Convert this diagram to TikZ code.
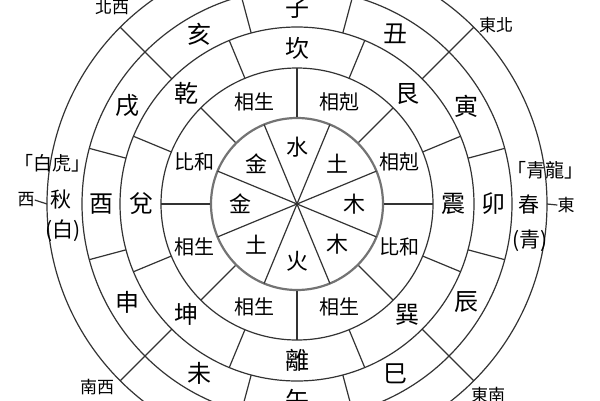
\documentclass[tikz,border=0pt]{standalone}
\usepackage{fontspec}
\newfontfamily\cjk{Noto Sans CJK TC}
\begin{document}
\begin{tikzpicture}[x=1pt,y=-1pt,
  ln/.style={line width=1.2pt, black!80},
  thick ring/.style={line width=2.2pt, black!55},
  inner/.style={font=\cjk\fontsize{22}{22}\selectfont},
  ringtwo/.style={font=\cjk\fontsize{20}{20}\selectfont},
  ringbig/.style={font=\cjk\fontsize{24}{24}\selectfont},
  outer/.style={font=\cjk\fontsize{21}{21}\selectfont, inner sep=0pt},
  beast/.style={font=\cjk\fontsize{19}{19}\selectfont, inner sep=0pt},
  dir/.style={font=\cjk\fontsize{17}{17}\selectfont, inner sep=0pt},
  corner/.style={font=\cjk\fontsize{17}{17}\selectfont, inner sep=0pt}]
\useasboundingbox (0,0) rectangle (600,400);
\clip (0,0) rectangle (600,400);
\fill[white] (0,0) rectangle (600,400);
\coordinate (O) at (297,204);
% circles
\foreach \r in {136,177,215,250} \draw[ln] (O) circle[radius=\r];
\draw[thick ring] (O) circle[radius=86];
% inner spokes
\foreach \a in {22.5,67.5,...,337.5} \draw[ln] (O) -- ([shift={(\a:86)}]O);
% ring 2 dividers
\foreach \a in {0,45,...,315} \draw[ln] ([shift={(\a:87)}]O) -- ([shift={(\a:136)}]O);
% ring 3 dividers
\foreach \a in {22.5,67.5,...,337.5} \draw[ln] ([shift={(\a:136)}]O) -- ([shift={(\a:177)}]O);
% ring 4 dividers
\foreach \a in {15,75,105,165,195,255,285,345} \draw[ln] ([shift={(\a:177)}]O) -- ([shift={(\a:215)}]O);
% diagonals
\foreach \a/\n in {225/nw,-45/ne,135/sw,45/se}{
  \coordinate (\n a) at ([shift={(\a:177)}]O);
  \coordinate (\n b) at ([shift={(\a:250)}]O);
  \draw[ln] (\n a) -- (\n b);
}
% inner labels
\foreach \a/\t [count=\i] in {-90/水,-45/土,0/木,45/木,90/火,135/土,180/金,225/金}
  \node[inner] (in\i) at ([shift={(\a:57)}]O) {\t};
% ring 2 labels
\foreach \a/\t [count=\i] in {247.5/相生,-67.5/相剋,-22.5/相剋,22.5/比和,67.5/相生,112.5/相生,157.5/相生,202.5/比和}
  \node[ringtwo] (rb\i) at ([shift={(\a:111)}]O) {\t};
% ring 3 labels
\foreach \a/\t [count=\i] in {-90/坎,-45/艮,0/震,45/巽,90/離,135/坤,180/兌,225/乾}
  \node[ringbig] (rc\i) at ([shift={(\a:156)}]O) {\t};
% ring 4 labels
\foreach \a/\t [count=\i] in {-90/子,-60/丑,-30/寅,0/卯,30/辰,60/巳,90/午,120/未,150/申,180/酉,210/戌,240/亥}
  \node[ringbig] (rd\i) at ([shift={(\a:196)}]O) {\t};
% outer ring texts
\node[beast] (baihu) at (52,163) {「白虎」};
\node[outer] (qiu) at (61,200) {秋};
\node[outer] (bai) at (63,231) {(白)};
\node[dir] (xi) at (26,200) {西};
\coordinate (xic) at ([shift={(180:250)}]O);
\draw[ln] (xi.east) -- (xic);
\node[beast] (qinglong) at (545,170) {「青龍」};
\node[outer] (chun) at (529,205) {春};
\node[outer] (qing) at (530,241) {(青)};
\node[dir] (dong) at (566,205) {東};
\coordinate (dongc) at ([shift={(0:250)}]O);
\draw[ln] (dongc) -- (dong.west);
% corner labels
\node[corner] (lnw) at (112,7) {北西};
\node[corner] (lne) at (496,25) {東北};
\node[corner] (lsw) at (97,387) {南西};
\node[corner] (lse) at (488,395) {東南};
\end{tikzpicture}
\end{document}
